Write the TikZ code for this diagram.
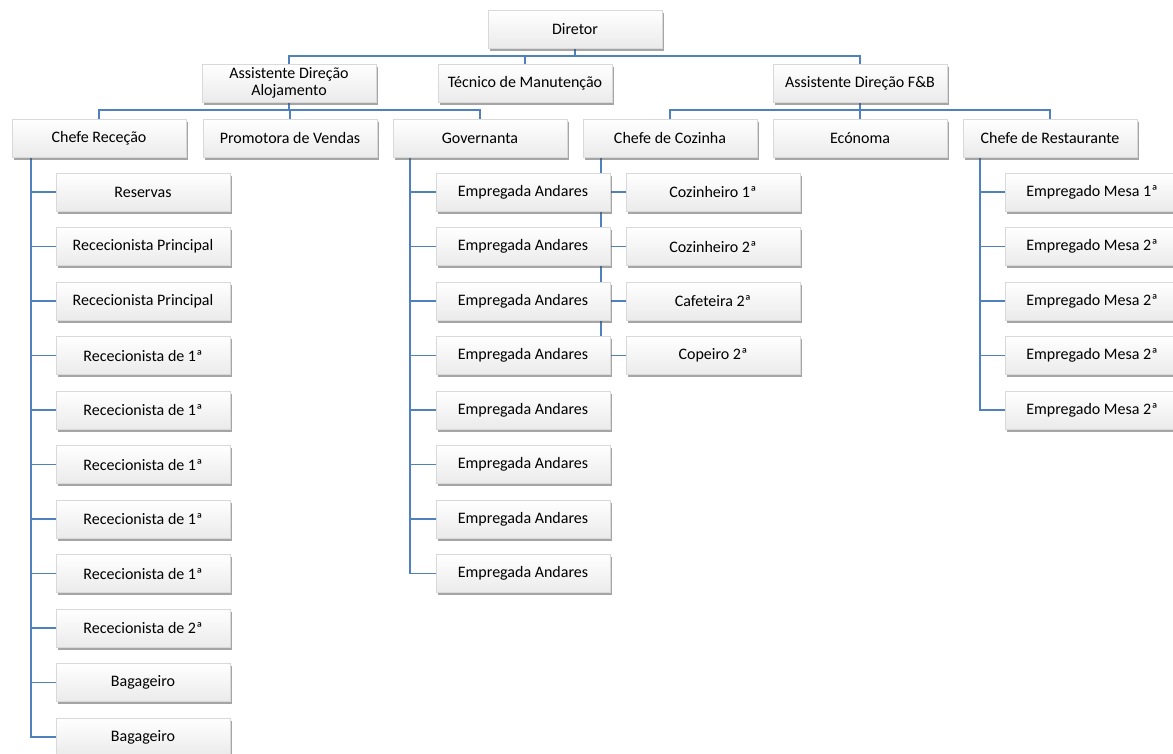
\documentclass[tikz,border=0pt]{standalone}
\usepackage{fontspec}
\setmainfont{Carlito}
\usetikzlibrary{shadows}
\definecolor{connc}{HTML}{4F81BD}
\pgfdeclarelayer{bg}
\pgfsetlayers{bg,main}
\begin{document}
\begin{tikzpicture}[x=1pt,y=-1pt,
 box/.style={draw=gray!30, line width=0.4pt, top color=white, bottom color=gray!16,
   minimum width=174pt, minimum height=38pt, inner sep=0pt, align=center,
   font=\fontsize{16}{16.5}\selectfont,
   drop shadow={shadow xshift=1.5pt, shadow yshift=-2.5pt, opacity=0.5, fill=black!70}},
 conn/.style={draw=connc, line width=1.5pt}]
\useasboundingbox (0,0) rectangle (1173,753);
% level 1-2
\node[box] (dir) at (575,29) {Diretor};
\node[box] (aa) at (289,83) {Assistente Direção\\Alojamento};
\node[box] (tm) at (525,83) {Técnico de Manutenção};
\node[box] (af) at (860,83) {Assistente Direção F\&B};
% level 3
\node[box] (cr) at (99,138) {Chefe Receção};
\node[box] (pv) at (290,138) {Promotora de Vendas};
\node[box] (gov) at (480,138) {Governanta};
\node[box] (cc) at (670,138) {Chefe de Cozinha};
\node[box] (ec) at (860,138) {Ecónoma};
\node[box] (rest) at (1050,138) {Chefe de Restaurante};
% children of Chefe Receção
\foreach \t [count=\i] in {Reservas,Rececionista Principal,Rececionista Principal,
  Rececionista de 1ª,Rececionista de 1ª,Rececionista de 1ª,Rececionista de 1ª,
  Rececionista de 1ª,Rececionista de 2ª,Bagageiro,Bagageiro}
  \node[box] (r\i) at (143,{192+54.5*(\i-1)}) {\t};
\foreach \i in {1,...,8}
  \node[box] (g\i) at (523,{192+54.5*(\i-1)}) {Empregada Andares};
\foreach \t [count=\i] in {Cozinheiro 1ª,Cozinheiro 2ª,Cafeteira 2ª,Copeiro 2ª}
  \node[box] (k\i) at (713,{192+54.5*(\i-1)}) {\t};
\foreach \t [count=\i] in {Empregado Mesa 1ª,Empregado Mesa 2ª,Empregado Mesa 2ª,
  Empregado Mesa 2ª,Empregado Mesa 2ª}
  \node[box] (m\i) at (1092,{192+54.5*(\i-1)}) {\t};
\begin{pgfonlayer}{bg}
 \draw[conn] (dir.south) -- ++(0,8) coordinate (d1) -| (aa.north);
 \draw[conn] (d1) -| (tm.north);
 \draw[conn] (d1) -| (af.north);
 \draw[conn] (aa.south) -- ++(0,8) coordinate (a1) -| (cr.north);
 \draw[conn] (a1) -| (pv.north);
 \draw[conn] (a1) -| (gov.north);
 \draw[conn] (af.south) -- ++(0,8) coordinate (f1) -| (cc.north);
 \draw[conn] (f1) -| (ec.north);
 \draw[conn] (f1) -| (rest.north);
 \foreach \i in {1,...,11} \draw[conn] ([xshift=19pt]cr.south west) |- (r\i.west);
 \foreach \i in {1,...,8} \draw[conn] ([xshift=17pt]gov.south west) |- (g\i.west);
 \foreach \i in {1,...,4} \draw[conn] ([xshift=18pt]cc.south west) |- (k\i.west);
 \foreach \i in {1,...,5} \draw[conn] ([xshift=17pt]rest.south west) |- (m\i.west);
\end{pgfonlayer}
\end{tikzpicture}
\end{document}
